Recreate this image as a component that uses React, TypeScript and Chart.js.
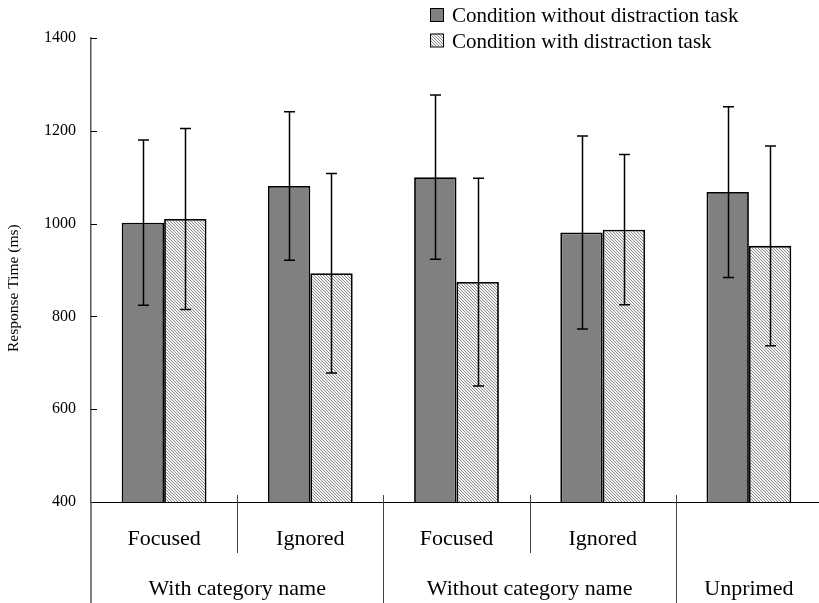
import React, { useEffect, useRef } from 'react';
import { Chart, registerables } from 'chart.js';

Chart.register(...registerables);

const categories = ['Focused', 'Ignored', 'Focused', 'Ignored', ''];
const groupLabels = ['With category name', 'Without category name', 'Unprimed'];
const groupSpans = [2, 2, 1];
const seriesLabels = ['Condition without distraction task', 'Condition with distraction task'];
const withoutTask = [1002, 1081, 1100, 981, 1068];
const withTask = [1010, 893, 874, 987, 952];
const withoutTaskErr = [178, 160, 177, 208, 184];
const withTaskErr = [195, 215, 224, 162, 215];
const yTicks = [400, 600, 800, 1000, 1200, 1400];
const yTitle = 'Response Time (ms)';

const SERIF = '"Liberation Serif", "Times New Roman", serif';

function makeHatch(): CanvasPattern | string {
  const c = document.createElement('canvas');
  c.width = 3;
  c.height = 3;
  const g = c.getContext('2d');
  if (!g) return '#d0d0d0';
  g.fillStyle = '#f4f4f4';
  g.fillRect(0, 0, 3, 3);
  g.fillStyle = '#8c8c8c';
  for (let i = 0; i < 3; i++) g.fillRect(i, i, 1, 1);
  const p = g.createPattern(c, 'repeat');
  return p || '#d0d0d0';
}

export default function App() {
  const ref = useRef<HTMLCanvasElement | null>(null);

  useEffect(() => {
    const canvas = ref.current;
    if (!canvas) return;
    const hatch = makeHatch();
    const errs = [withoutTaskErr, withTaskErr];

    const decor = {
      id: 'decor',
      afterDatasetsDraw(chart: any) {
        const ctx = chart.ctx;
        const ys = chart.scales.y;
        ctx.save();
        ctx.strokeStyle = '#000';
        ctx.lineWidth = 1.5;
        chart.data.datasets.forEach((ds: any, d: number) => {
          const meta = chart.getDatasetMeta(d);
          meta.data.forEach((bar: any, i: number) => {
            const v = ds.data[i];
            const e = errs[d][i];
            const x = Math.round(bar.x) + 0.5;
            const yt = ys.getPixelForValue(v + e);
            const yb = ys.getPixelForValue(v - e);
            ctx.beginPath();
            ctx.moveTo(x, yt);
            ctx.lineTo(x, yb);
            ctx.moveTo(x - 5.5, yt);
            ctx.lineTo(x + 5.5, yt);
            ctx.moveTo(x - 5.5, yb);
            ctx.lineTo(x + 5.5, yb);
            ctx.stroke();
          });
        });
        ctx.restore();
      },
      afterDraw(chart: any) {
        const ctx = chart.ctx;
        const xs = chart.scales.x;
        const ys = chart.scales.y;
        const area = chart.chartArea;
        ctx.save();

        // inward y ticks
        ctx.strokeStyle = '#000';
        ctx.lineWidth = 1;
        yTicks.forEach((v) => {
          const y = Math.round(ys.getPixelForValue(v)) + 0.5;
          ctx.beginPath();
          ctx.moveTo(area.left, y);
          ctx.lineTo(area.left + 6, y);
          ctx.stroke();
        });

        // separators
        const cx = (i: number) => xs.getPixelForValue(i);
        const boundary = (k: number) => (k === 0 ? area.left : (cx(k - 1) + cx(k)) / 2);
        ctx.strokeStyle = '#444';
        ctx.lineWidth = 1;
        const groupEnds: number[] = [];
        let acc = 0;
        groupSpans.forEach((s) => { acc += s; groupEnds.push(acc); });
        for (let k = 1; k < categories.length; k++) {
          const x = Math.round(boundary(k)) + 0.5;
          const long = groupEnds.includes(k);
          ctx.beginPath();
          ctx.moveTo(x, area.bottom - 7);
          ctx.lineTo(x, long ? chart.height : area.bottom + 51);
          ctx.stroke();
        }
        // left axis extension
        ctx.strokeStyle = '#555';
        ctx.lineWidth = 1.5;
        ctx.beginPath();
        ctx.moveTo(area.left, area.bottom);
        ctx.lineTo(area.left, chart.height);
        ctx.stroke();

        // category labels
        ctx.fillStyle = '#000';
        ctx.font = `22px ${SERIF}`;
        ctx.textAlign = 'center';
        ctx.textBaseline = 'alphabetic';
        categories.forEach((c, i) => {
          if (c) ctx.fillText(c, cx(i), area.bottom + 43);
        });
        let start = 0;
        groupLabels.forEach((g, gi) => {
          const end = start + groupSpans[gi] - 1;
          const mid = (cx(start) + cx(end)) / 2;
          ctx.fillText(g, mid, area.bottom + 93);
          start = end + 1;
        });

        // y title
        ctx.save();
        ctx.translate(14, 352);
        ctx.rotate(-Math.PI / 2);
        ctx.font = `15.5px ${SERIF}`;
        ctx.textAlign = 'left';
        ctx.textBaseline = 'middle';
        ctx.fillText(yTitle, 0, 0);
        ctx.restore();

        // legend
        const rows = [15, 40.5];
        chart.data.datasets.forEach((ds: any, d: number) => {
          const y = rows[d];
          ctx.fillStyle = ds.backgroundColor;
          ctx.fillRect(430, y - 7, 13, 13);
          ctx.strokeStyle = '#000';
          ctx.lineWidth = 1;
          ctx.strokeRect(430.5, y - 6.5, 13, 13);
          ctx.fillStyle = '#000';
          ctx.font = `21px ${SERIF}`;
          ctx.textAlign = 'left';
          ctx.textBaseline = 'alphabetic';
          ctx.fillText(ds.label, 452, y + 7);
        });
        ctx.restore();
      },
    };

    const chart = new Chart(canvas, {
      type: 'bar',
      data: {
        labels: categories,
        datasets: [
          {
            label: seriesLabels[0],
            data: withoutTask,
            backgroundColor: '#808080',
            borderColor: '#000',
            borderWidth: 1.8,
            categoryPercentage: 0.58,
            barPercentage: 1.0,
          },
          {
            label: seriesLabels[1],
            data: withTask,
            backgroundColor: hatch as any,
            borderColor: '#000',
            borderWidth: 1.8,
            categoryPercentage: 0.58,
            barPercentage: 1.0,
          },
        ],
      },
      options: {
        responsive: false,
        animation: false,
        layout: { padding: { top: 38, left: 0, right: 0, bottom: 0 } },
        plugins: { legend: { display: false }, tooltip: { enabled: false }, title: { display: false } },
        font: { family: SERIF },
        scales: {
          x: {
            ticks: { display: false },
            grid: { display: false, drawTicks: false },
            border: { display: true, color: '#000', width: 1 },
            afterFit: (s: any) => { s.height = 101; },
          },
          y: {
            min: 400,
            max: 1400,
            afterBuildTicks: (s: any) => { s.ticks = yTicks.map((v) => ({ value: v })); },
            grid: { display: false, drawTicks: false },
            border: { display: true, color: '#555', width: 1.5 },
            ticks: {
              padding: 15,
              color: '#000',
              font: { size: 16, family: SERIF },
              callback: (v: any) => String(v),
            },
            afterFit: (s: any) => { s.width = 91; },
          },
        },
      } as any,
      plugins: [decor],
    });
    return () => chart.destroy();
  }, []);

  return (
    <div style={{ position: 'fixed', left: 0, top: 0, width: 819, height: 603, overflow: 'hidden', background: '#fff' }}>
      <canvas ref={ref} width={822} height={603} style={{ display: 'block', width: 822, height: 603 }} />
    </div>
  );
}
